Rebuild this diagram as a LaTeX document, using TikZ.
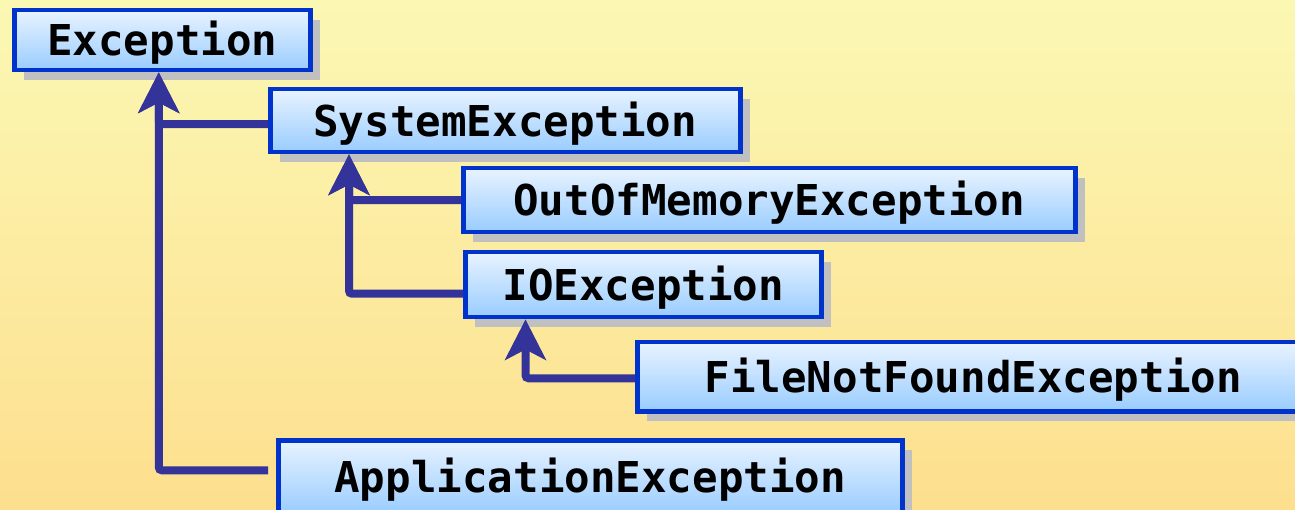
\documentclass[tikz,border=0pt]{standalone}
\usepackage{xcolor}
\usepackage{fontspec}
\usepackage{tikz}
\usetikzlibrary{arrows.meta,shadows}
\newfontfamily\classfont{DejaVu Sans Mono}
\definecolor{hcblue}{HTML}{0033CC}
\definecolor{hcnavy}{HTML}{333399}
\definecolor{hcice}{HTML}{E8F3FF}
\definecolor{hcsky}{HTML}{99CCFF}
\definecolor{hcshade}{HTML}{C0C0C0}
\definecolor{hcpale}{HTML}{FBF8B4}
\definecolor{hcgold}{HTML}{FDDF8E}

\begin{document}
\begin{tikzpicture}[x=1pt,y=-1pt,
  classbox/.style={draw=hcblue,line width=4.5pt,top color=hcice,bottom color=hcsky,
    anchor=north west,inner sep=0pt,text height=31pt,text depth=0pt,
    font=\classfont\bfseries\fontsize{42.5}{42.5}\selectfont,
    drop shadow={shadow xshift=10pt,shadow yshift=-10pt,fill=hcshade,opacity=1}},
  inherit/.style={draw=hcnavy,line width=8pt,rounded corners=3pt,
    -{Stealth[length=41pt,width=42pt,inset=11pt,line width=0pt]}}]
  \useasboundingbox (0,0) rectangle (1295,510);
  \shade[top color=hcpale,bottom color=hcgold] (0,0) rectangle (1295,510);
  \foreach \name/\x/\y/\w/\h/\title in {
    exc/12/8/296/60/Exception,
    sys/268/87/470/63/SystemException,
    oom/461/166/612/64/OutOfMemoryException,
    io/463/250/356/65/IOException,
    fnf/635/340/672/69/FileNotFoundException,
    app/276/438/624/74/ApplicationException}
  {
    \node[classbox,minimum width=\w pt,minimum height=\h pt] (\name) at (\x,\y) {\title};
  }
  \coordinate (excT) at ([xshift=-3.5pt]exc.south);
  \coordinate (sysT) at ([xshift=81pt]sys.south west);
  \coordinate (ioT) at ([xshift=62.5pt]io.south west);
  \draw[inherit] ([yshift=-3.5pt]sys.west) -| (excT);
  \draw[inherit,shorten <=8pt] ([yshift=7pt]app.west) -| (excT);
  \draw[inherit] (oom.west) -| (sysT);
  \draw[inherit] ([yshift=-9pt]io.west) -| (sysT);
  \draw[inherit] ([yshift=-1.5pt]fnf.west) -| (ioT);
\end{tikzpicture}
\end{document}
